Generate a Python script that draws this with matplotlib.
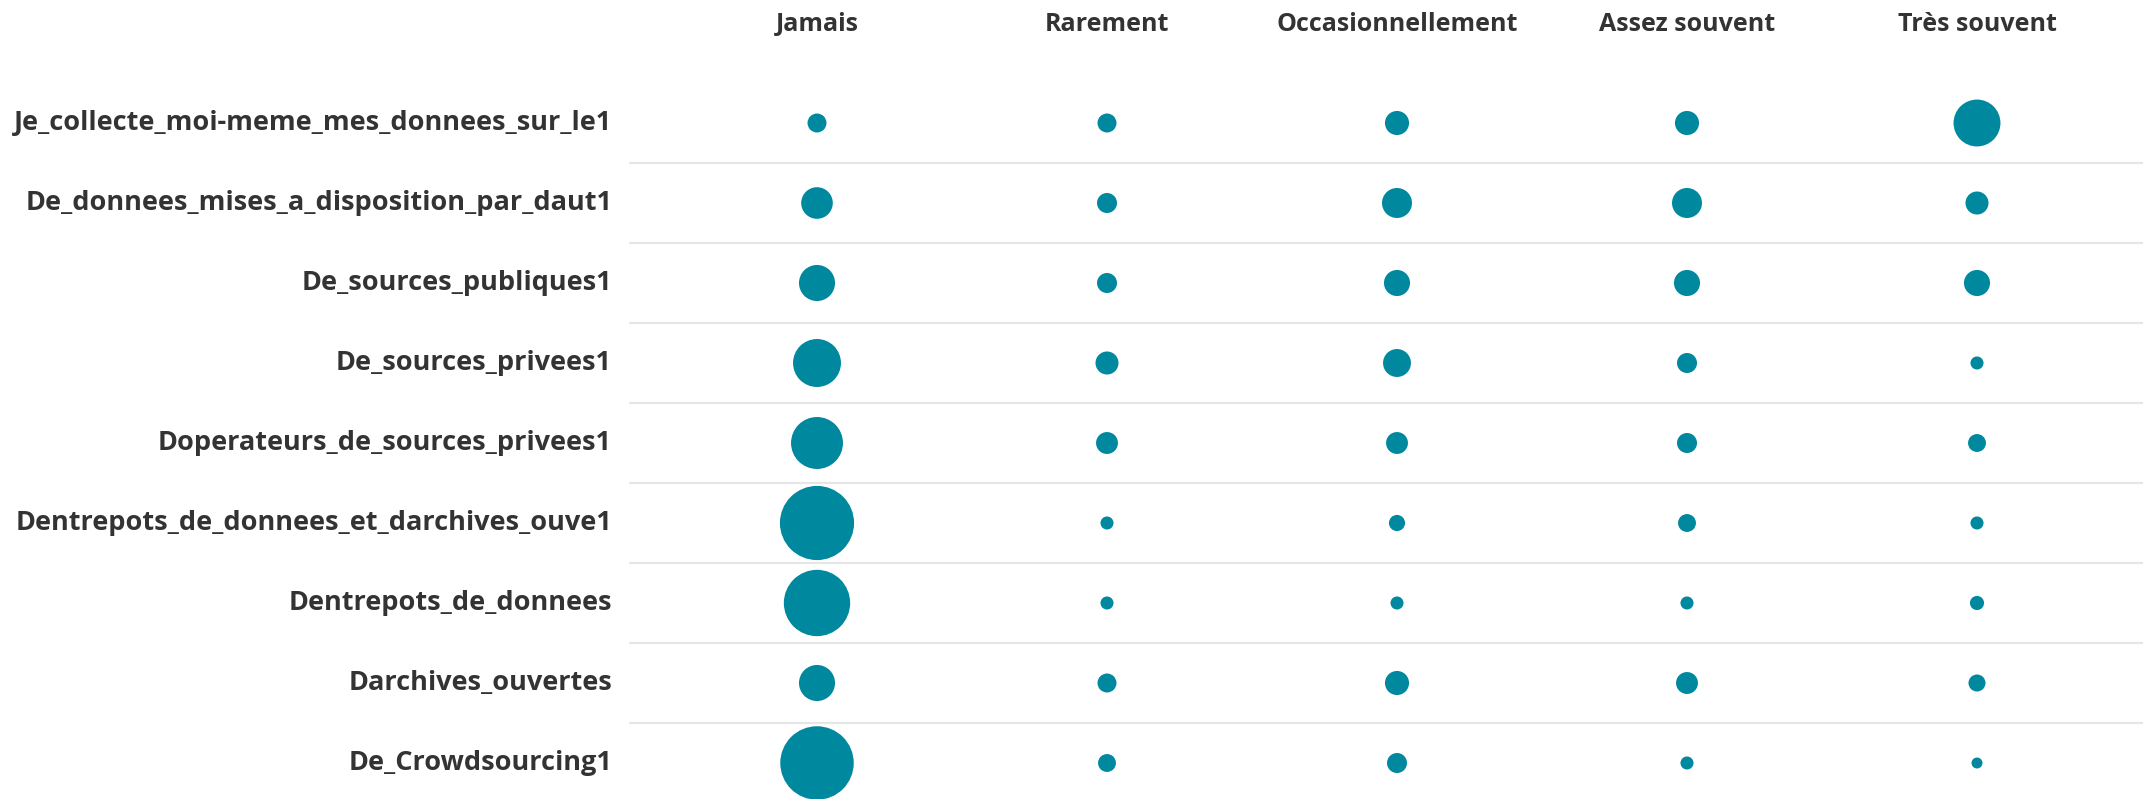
import numpy as np
import matplotlib.pyplot as plt

plt.rcParams['font.family'] = ['Open Sans', 'DejaVu Sans']

# frequency categories (columns) and data sources (rows)
frequences = ['Jamais', 'Rarement', 'Occasionnellement', 'Assez souvent', 'Très souvent']
sources = ['Je_collecte_moi-meme_mes_donnees_sur_le1',
           'De_donnees_mises_a_disposition_par_daut1',
           'De_sources_publiques1',
           'De_sources_privees1',
           'Doperateurs_de_sources_privees1',
           'Dentrepots_de_donnees_et_darchives_ouve1',
           'Dentrepots_de_donnees',
           'Darchives_ouvertes',
           'De_Crowdsourcing1']

# counts per source, one list per frequency
jamais = [3.6, 10, 13, 23, 27, 55, 44, 13, 54]
rarement = [3.6, 4.0, 4.0, 5.3, 4.8, 1.7, 1.7, 3.6, 3.2]
occasionnellement = [5.8, 9.0, 6.8, 7.8, 4.8, 2.6, 1.7, 5.8, 4.0]
assez_souvent = [5.8, 9.0, 6.8, 4.0, 4.0, 3.2, 1.7, 4.8, 1.7]
tres_souvent = [22, 5.3, 6.8, 1.7, 3.2, 1.7, 2.0, 2.9, 1.2]

teal = '#00889f'
txt = '#333333'

fig = plt.figure(figsize=(21.47, 7.99), dpi=100)
W, H = 2147, 799
ax = fig.add_axes([629 / W, 0, (2143 - 629) / W, 1])
ax.set_xlim((629 - 817) / 290, (2143 - 817) / 290)
ax.set_ylim((799 - 123) / 80, -123 / 80)
ax.axis('off')

cols = [jamais, rarement, occasionnellement, assez_souvent, tres_souvent]
rows = np.arange(len(sources))
for j, vals in enumerate(cols):
    d_px = np.sqrt(np.array(vals)) * 10.0
    ax.scatter(np.full(len(vals), j), rows, s=(d_px * 0.72) ** 2,
               color=teal, linewidths=0, clip_on=False, zorder=3)

# separators between rows
for i in range(len(sources) - 1):
    ax.axhline(i + 0.5, color='#e6e6e6', lw=1.6, zorder=1)

# column headers
for j, f in enumerate(frequences):
    ax.text(j, -1.23, f, ha='center', va='center', fontsize=18,
            fontweight='bold', color=txt)

# row labels, right aligned just left of the grid
for i, s in enumerate(sources):
    ax.text(-17 / 1514, i, s, transform=ax.get_yaxis_transform(),
            ha='right', va='center', fontsize=19.5, fontweight='bold', color=txt)

fig.savefig('out.png', dpi=100)
